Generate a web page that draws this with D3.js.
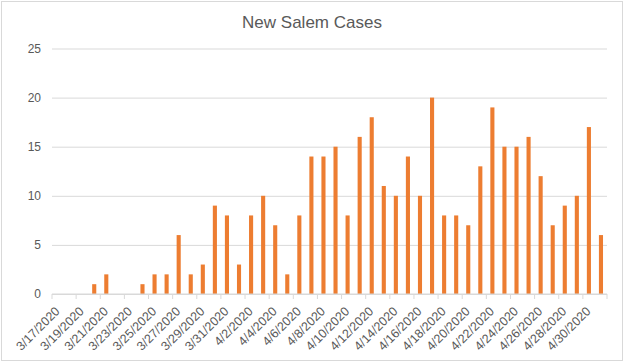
<!DOCTYPE html>
<html>
<head>
<meta charset="utf-8">
<script src="https://cdn.jsdelivr.net/npm/d3@7"></script>
<style>
  body { margin: 0; background: #fff; }
  svg { display: block; font-family: "Liberation Sans", Arial, sans-serif; }
</style>
</head>
<body>
<svg width="625" height="364"></svg>
<script>
// daily new cases, 3/17/2020 .. 5/1/2020
var dates = [
  "3/17/2020", "3/18/2020", "3/19/2020", "3/20/2020", "3/21/2020", "3/22/2020",
  "3/23/2020", "3/24/2020", "3/25/2020", "3/26/2020", "3/27/2020", "3/28/2020",
  "3/29/2020", "3/30/2020", "3/31/2020", "4/1/2020", "4/2/2020", "4/3/2020",
  "4/4/2020", "4/5/2020", "4/6/2020", "4/7/2020", "4/8/2020", "4/9/2020",
  "4/10/2020", "4/11/2020", "4/12/2020", "4/13/2020", "4/14/2020", "4/15/2020",
  "4/16/2020", "4/17/2020", "4/18/2020", "4/19/2020", "4/20/2020", "4/21/2020",
  "4/22/2020", "4/23/2020", "4/24/2020", "4/25/2020", "4/26/2020", "4/27/2020",
  "4/28/2020", "4/29/2020", "4/30/2020", "5/1/2020"
];
var cases = [
  0, 0, 0, 1, 2, 0,
  0, 1, 2, 2, 6, 2,
  3, 9, 8, 3, 8, 10,
  7, 2, 8, 14, 14, 15,
  8, 16, 18, 11, 10, 14,
  10, 20, 8, 8, 7, 13,
  19, 15, 15, 16, 12, 7,
  9, 10, 17, 6
];
var yTicks = [0, 5, 10, 15, 20, 25];
// every other date gets a label
var xLabels = dates.filter(function(d, i) { return i % 2 === 0; });

(function() {
  var svg = d3.select("svg");
  var plotLeft = 52, plotRight = 607, plotTop = 48.5, plotBottom = 294;
  var textColor = "#595959", gridColor = "#d9d9d9", barColor = "#ed7d31";

  // chart border
  svg.append("rect")
    .attr("x", 1.5).attr("y", 1.5)
    .attr("width", 621).attr("height", 359)
    .attr("fill", "#fff")
    .attr("stroke", "#d9d9d9");

  svg.append("text")
    .attr("x", 312).attr("y", 28)
    .attr("text-anchor", "middle")
    .attr("fill", textColor)
    .style("font-size", "17px")
    .text("New Salem Cases");

  var x = d3.scaleBand()
    .domain(dates)
    .range([plotLeft, plotRight])
    .paddingInner(0.66)
    .paddingOuter(0.33);

  var y = d3.scaleLinear().domain([0, 25]).range([plotBottom, plotTop]);

  // gridlines + y labels
  var yAxis = svg.append("g")
    .attr("transform", "translate(" + plotLeft + ",0)")
    .call(d3.axisLeft(y).tickValues(yTicks).tickSize(-(plotRight - plotLeft)).tickPadding(11));
  yAxis.select(".domain").remove();
  yAxis.selectAll(".tick line").attr("stroke", gridColor).attr("stroke-width", 1);
  yAxis.selectAll(".tick text")
    .attr("fill", textColor)
    .style("font-size", "12px")
    .style("font-family", "Liberation Sans, Arial, sans-serif");

  svg.append("g")
    .selectAll("rect")
    .data(cases)
    .enter().append("rect")
    .attr("x", function(d, i) { return x(dates[i]); })
    .attr("width", x.bandwidth())
    .attr("y", function(d) { return y(d); })
    .attr("height", function(d) { return plotBottom - y(d); })
    .attr("fill", barColor);

  // x axis line and tick marks at category boundaries
  var step = x.step();
  var xg = svg.append("g").attr("transform", "translate(0," + plotBottom + ")");
  xg.append("line")
    .attr("x1", plotLeft).attr("x2", plotRight)
    .attr("stroke", gridColor);
  xg.selectAll(".tk")
    .data(xLabels.concat([null]))
    .enter().append("line")
    .attr("class", "tk")
    .attr("x1", function(d, i) { return plotLeft + i * 2 * step; })
    .attr("x2", function(d, i) { return plotLeft + i * 2 * step; })
    .attr("y1", 0).attr("y2", 5)
    .attr("stroke", gridColor);

  xg.selectAll("text")
    .data(xLabels)
    .enter().append("text")
    .attr("transform", function(d) {
      var cx = x(d) + x.bandwidth() / 2 + 2.5;
      return "translate(" + cx + ",18) rotate(-45)";
    })
    .attr("text-anchor", "end")
    .attr("fill", textColor)
    .style("font-size", "12.5px")
    .text(function(d) { return d; });
})();
</script>
</body>
</html>
